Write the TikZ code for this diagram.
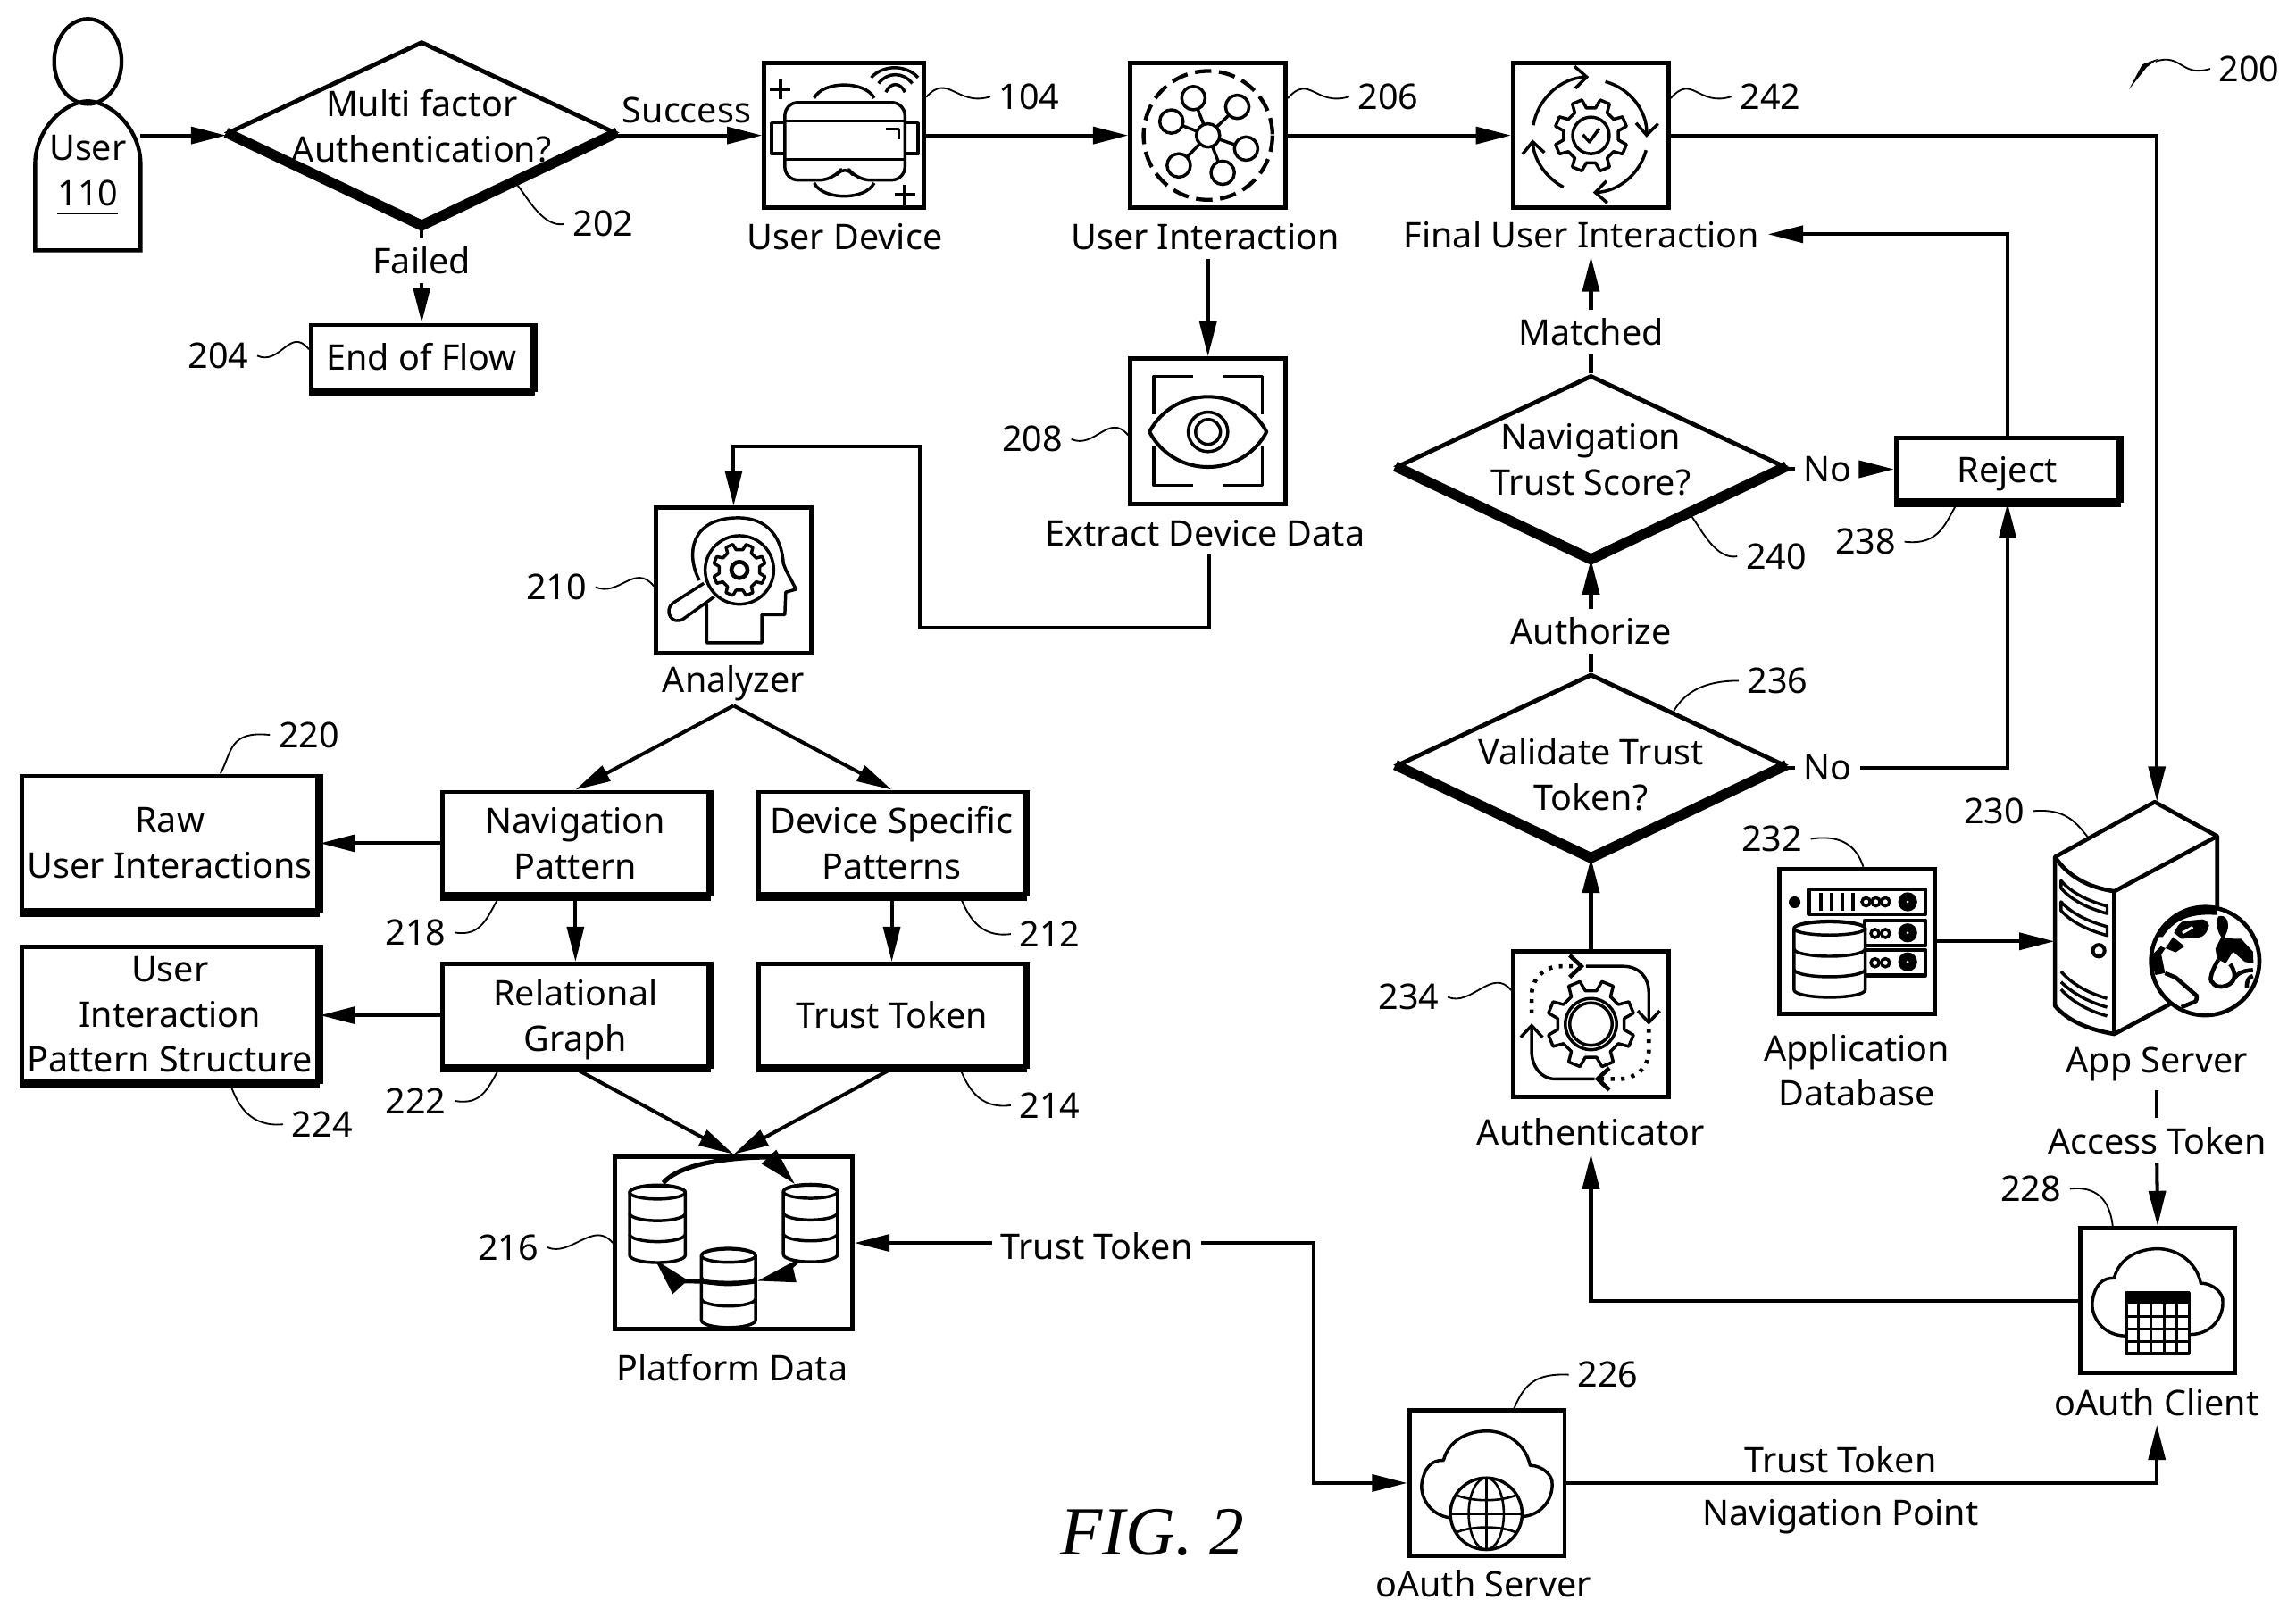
\documentclass[tikz,border=0pt]{standalone}
\usepackage{fontspec}
\setmainfont{Noto Sans}
\newfontfamily\capfont{Liberation Serif}
\usetikzlibrary{arrows.meta, shapes.geometric, positioning}
\newcommand{\figfont}{\fontsize{6.85}{8.8}\selectfont}
\newcommand{\nodepth}[1]{\raisebox{0pt}[\height][0pt]{#1}}
\tikzset{
    icon/.style={line width=.6pt, line join=round},
    iconbox/.style={draw, line width=.85pt, minimum width=1.06cm, minimum height=.99cm, inner sep=0pt},
    flowbox/.style={draw, line width=.85pt, align=center, inner sep=0pt},
    decision/.style={draw, diamond, line width=.85pt, minimum width=2.64cm, minimum height=1.24cm, inner sep=0pt, aspect=2.1},
    tag/.style={inner sep=1.5pt, align=center},
    link/.style={line width=.7pt, -{Stealth[length=2.4mm,width=1.15mm,inset=0pt]}},
    plainlink/.style={line width=.7pt},
    leader/.style={line width=.32pt},
    ringtip/.style={icon, -{Straight Barb[length=.8mm,width=1.5mm]}},
    cycletip/.style={line width=.9pt, -{Stealth[length=2.6mm,width=1.3mm,inset=0pt]}}
}
% eight teeth round a centre
\newcommand{\cogwheel}[3]{%
    \draw[icon, shift={(#1)}] (9.5:#2) \foreach \a in {22.5,67.5,...,337.5} {
        -- ({\a-13}:#2) -- ({\a-8}:#3) -- ({\a+8}:#3) -- ({\a+13}:#2)} -- cycle;}
% three stacked discs
\newcommand{\dbstack}[4]{%
    \begin{scope}[shift={(#1,#2)}]
        \draw[icon, fill=white] (-#3,0) -- (-#3,3*#4) arc[start angle=180, end angle=0, x radius=#3, y radius=5] -- (#3,0) arc[start angle=0, end angle=-180, x radius=#3, y radius=5];
        \draw[icon] (0,0) ellipse[x radius=#3, y radius=4.5];
        \draw[icon] (-#3,#4) arc[start angle=180, end angle=0, x radius=#3, y radius=5];
        \draw[icon] (-#3,2*#4) arc[start angle=180, end angle=0, x radius=#3, y radius=5];
    \end{scope}}
\newcommand{\cloudhull}[1]{%
    \draw[icon, shift={(#1)}] (-21.5,24) .. controls (-38,24) and (-46,10) .. (-44.5,0) .. controls (-43,-10) and (-38,-16) .. (-29.7,-15.5) .. controls (-26,-30) and (-12,-35.5) .. (0,-35.5) .. controls (12,-35.5) and (26,-28) .. (29.5,-12) .. controls (38,-12) and (45,-5) .. (44.5,0.5) .. controls (45,12) and (36,23) .. (22.5,23);}
\newcommand{\wavelead}[2]{\draw[leader] (#1) .. controls +(-23,7) and +(15,-17) .. (#2);}
\newcommand{\waveback}[2]{\draw[leader] (#1) .. controls +(16,7) and +(-13,-16) .. (#2);}

\begin{document}
\begin{tikzpicture}[x=.01cm, y=-.01cm, every node/.style={font=\figfont}]
    \useasboundingbox (0,0) rectangle (1568,1104);
    % User
    \draw[line width=.75pt] (60,42) ellipse[x radius=23, y radius=29];
    \draw[line width=.75pt] (24,171) -- (24,112) .. controls (24,90) and (42,70) .. (60,69) .. controls (78,70) and (96,90) .. (96,112) -- (96,171) -- cycle;
    \coordinate (userport) at (96,92.5);
    \node[tag] (usertxt) at (60,120) {User\\\underline{110}};

    % Upper row
    \node[decision] (mfa) at (288,90.5) {};
    \node[tag] (mfatxt) at (288,86) {Multi factor\\Authentication?};
    \node[iconbox, minimum width=1.09cm] (udev) at (576.5,92.5) {};
    \node[iconbox] (uint) at (825,92.5) {};
    \node[iconbox] (fint) at (1086.5,92.5) {};
    \node[tag] (udevl) at (577,162) {User Device};
    \node[tag] (uintl) at (823,162) {User Interaction};
    \node[tag] (fintl) at (1080,160) {Final User Interaction};
    \node[tag] (succ) at (469,75) {Success};
    \node[tag] (fail) at (288,178) {Failed};
    \node[flowbox, minimum width=1.51cm, minimum height=.44cm] (endf) at (288,244) {End of Flow};

    % Extract and analyzer
    \node[iconbox] (extr) at (825,294.5) {};
    \node[tag] (extrl) at (823,364) {Extract Device Data};
    \node[iconbox] (anlz) at (501,396.5) {};
    \node[tag] (anlzl) at (501,467) {Analyzer};
    \coordinate (fork) at (501,482);
    \coordinate (ex1) at (826,429);
    \coordinate (ex2) at (628,429);
    \coordinate (ex3) at (628,305);
    \coordinate (ex4) at (501,305);

    % Pattern boxes
    \node[flowbox, minimum width=2.02cm, minimum height=.92cm] (raw) at (116,576) {Raw\\User Interactions};
    \node[flowbox, minimum width=2.02cm, minimum height=.92cm] (uips) at (116,693) {User\\Interaction\\Pattern Structure};
    \node[flowbox, minimum width=1.82cm, minimum height=.7cm] (nav) at (393,576) {Navigation\\Pattern};
    \node[flowbox, minimum width=1.82cm, minimum height=.7cm] (dsp) at (609,576) {Device Specific\\Patterns};
    \node[flowbox, minimum width=1.82cm, minimum height=.7cm] (rel) at (393,693.5) {Relational\\\nodepth{Graph}};
    \node[flowbox, minimum width=1.82cm, minimum height=.7cm] (trt) at (609,693.5) {Trust Token};
    \node[draw, line width=.85pt, minimum width=1.62cm, minimum height=1.18cm, inner sep=0pt] (pdat) at (501,849) {};
    \node[tag] (pdatl) at (500,934) {Platform Data};
    \node[tag] (ttmid) at (749,851) {Trust Token};
    \coordinate (ttbend) at (897,849);

    % Right column
    \node[decision] (nts) at (1086.5,318.5) {};
    \node[tag] (ntstxt) at (1086.5,314) {Navigation\\Trust Score?};
    \node[decision] (vtt) at (1086.5,522.5) {};
    \node[tag] (vtttxt) at (1086.5,529) {Validate Trust\\Token?};
    \node[flowbox, minimum width=1.52cm, minimum height=.43cm] (rej) at (1371,320.5) {\nodepth{Reject}};
    \node[tag] (mat) at (1086.5,227) {Matched};
    \node[tag] (no1) at (1248,320.5) {No};
    \node[tag] (no2) at (1248,524.5) {No};
    \node[tag] (auth) at (1086.5,431) {Authorize};
    \node[iconbox] (autb) at (1086.5,699.5) {};
    \node[tag] (autl) at (1086.5,773) {Authenticator};
    \node[iconbox] (adb) at (1268,643) {};
    \node[tag] (adbl) at (1268,731) {Application\\Database};
    \node[tag] (srvl) at (1473,727) {App Server};
    \node[tag] (acc) at (1473,779) {Access Token};
    \node[iconbox] (ocl) at (1473.5,888.5) {};
    \node[tag] (ocll) at (1473,958) {oAuth Client};
    \node[iconbox] (osv) at (1015.5,1013) {};
    \node[tag] (osvl) at (1013,1082) {oAuth Server};
    \node[tag] (tt2) at (1257,997) {Trust Token};
    \node[tag] (npt) at (1257,1036) {Navigation Point};
    \coordinate (srvtop) at (1473,547.5);
    \coordinate (srvleft) at (1403,643);

    \node[inner sep=0pt, font=\capfont\itshape\fontsize{13.4}{15}\selectfont] (figname) at (787,1047) {FIG. 2};

    % Heavy lower edges
    \draw[line width=2pt, line join=miter] (mfa.west) -- (mfa.south) -- (mfa.east);
    \draw[line width=2pt, line join=miter] (nts.west) -- (nts.south) -- (nts.east);
    \draw[line width=2pt, line join=miter] (vtt.west) -- (vtt.south) -- (vtt.east);
    \foreach \b in {endf,rej,raw,uips,nav,dsp,rel,trt} {
        \draw[line width=1.5pt] (\b.south west) -- (\b.south east);
        \draw[line width=1.1pt] (\b.south east) -- (\b.north east);
    }

    % Connectors
    \draw[link] (userport) -- (userport -| mfa.west);
    \draw[link] (mfa.east |- udev.west) -- (udev.west);
    \draw[link] (udev.east) -- (uint.west);
    \draw[link] (uint.east) -- (fint.west);
    \draw[link] (fint.east) -| (srvtop);
    \draw[plainlink] (mfa.south) -- (fail.north);
    \draw[link] (fail.south) -- (endf.north);
    \draw[link] (uint.south |- uintl.south) -- (extr.north);
    \draw[link] (ex1 |- extrl.south) -- (ex1) -- (ex2) -- (ex3) -- (ex4) -- (anlz.north);
    \draw[link] (fork) -- (nav.north);
    \draw[link] (fork) -- (dsp.north);
    \draw[link] (nav.west) -- (raw.east);
    \draw[link] (rel.west) -- (rel.west -| uips.east);
    \draw[link] (nav.south) -- (rel.north);
    \draw[link] (dsp.south) -- (trt.north);
    \draw[link] (rel.south) -- (pdat.north);
    \draw[link] (trt.south) -- (pdat.north);
    \draw[link] (ttmid.west |- pdat.east) -- (pdat.east);
    \draw[link] (ttmid.east |- ttbend) -- (ttbend) |- (osv.west);
    \draw[plainlink] (nts.north) -- (mat.south);
    \draw[link] (mat.north) -- (mat.north |- fintl.south);
    \draw[link] (rej.north) |- (fintl.east);
    \draw[plainlink] (nts.east |- no1.west) -- (no1.west);
    \draw[link] (no1.east) -- (rej.west);
    \draw[plainlink] (vtt.east |- no2.west) -- (no2.west);
    \draw[link] (no2.east) -| (rej.south);
    \draw[plainlink] (vtt.north) -- (auth.south);
    \draw[link] (auth.north) -- (nts.south);
    \draw[link] (autb.north) -- (vtt.south);
    \draw[link] (ocl.west) -| (autl.south);
    \draw[plainlink] (srvl.south) -- (acc.north);
    \draw[link] (acc.south) -- (ocl.north);
    \draw[link] (adb.east) -- (srvleft);
    \draw[link] (osv.east) -| (ocll.south);

    % VR headset
    \draw[icon, rounded corners=.09cm] (577,112) -- (585,123) -- (618,123) -- (618,70) -- (536,70) -- (536,123) -- (569,123) -- cycle;
    \draw[icon] (536,82.6) -- (618,82.6) (536,109) -- (618,109);
    \draw[icon] (536,84) -- (527,84) -- (527,105) -- (536,105);
    \draw[icon] (618,84) -- (627,84) -- (627,105) -- (618,105);
    \draw[icon] (605,88) -- (614,88) -- (614,95);
    \draw[icon] (556,67) .. controls (562,55) and (591,55) .. (597,67);
    \draw[icon] (556,125) .. controls (562,137) and (591,137) .. (597,125);
    \draw[icon] (595,53) .. controls (603,44) and (619,44) .. (627,53);
    \draw[icon] (600,57) .. controls (606,49) and (617,49) .. (623,57);
    \draw[icon] (605,63) .. controls (608,56) and (615,56) .. (618,63);
    \draw[line width=.7pt] (533,54) -- (533,68) (526,61) -- (540,61);
    \draw[line width=.7pt] (618,126) -- (618,141) (611,133) -- (625,133);

    % Network
    \draw[icon, dash pattern=on 3.2pt off 1.5pt, line width=.75pt] (825,92.5) circle[radius=44];
    \foreach \px/\py in {815/67, 845/73, 800/83, 851/101.5, 805/113, 835/118} {
        \draw[icon] (825,92.5) -- (\px,\py);
        \draw[icon, fill=white] (\px,\py) circle[radius=8];
    }
    \draw[icon, fill=white] (825,92.5) circle[radius=8];

    % Gear with check mark
    \cogwheel{1086.5,92.5}{19}{25}
    \draw[icon] (1086.5,92.5) circle[radius=12.5];
    \draw[icon] (1081,92) -- (1085.5,97) -- (1092,88);
    \begin{scope}[shift={(1086.5,92.5)}]
        \draw[ringtip] (190:40) arc[start angle=190, end angle=268, radius=40];
        \draw[ringtip] (-75:38) arc[start angle=-75, end angle=2, radius=38];
        \draw[ringtip] (15:39) arc[start angle=15, end angle=88, radius=39];
        \draw[ringtip] (118:40) arc[start angle=118, end angle=176, radius=40];
    \end{scope}

    % Eye
    \draw[icon] (815,257) -- (788,257) -- (788,283) (835,257) -- (862,257) -- (862,283);
    \draw[icon] (815,331.5) -- (788,331.5) -- (788,305) (835,331.5) -- (862,331.5) -- (862,305);
    \draw[line width=.7pt, line join=round] (785,295) .. controls (802,263) and (848,263) .. (865,295) .. controls (848,327) and (802,327) .. (785,295) -- cycle;
    \draw[icon] (825,295) circle[radius=13.5];
    \draw[icon] (825,295) circle[radius=8.5];

    % Head with lens
    \draw[icon] (477.6,396.4) .. controls (468,378) and (472,353.7) .. (504,353.7) .. controls (525,353.7) and (534,368) .. (535,385) -- (537,390) -- (543.7,402.5) -- (536.6,404.5) -- (536,419.8) -- (520.3,419.8) -- (520.3,439) -- (482.7,439) -- (482.7,412.6);
    \draw[icon] (480.7,398.4) -- (459.5,412) .. controls (453,417) and (459,428) .. (467,422.5) -- (487.8,407.6);
    \draw[icon, fill=white] (505,389.3) circle[radius=23.4];
    \cogwheel{505,389.3}{14}{18}
    \draw[line width=.8pt] (505,389.3) circle[radius=5.5];

    % Platform data
    \draw[cycletip] (453,808) .. controls (468,790) and (525,790) .. (543,809);
    \draw[cycletip] (547,859) .. controls (540,866) and (530,872) .. (517,875);
    \draw[cycletip] (500,875) .. controls (480,877) and (458,872) .. (447,860);
    \dbstack{449}{814.5}{19}{14.3}
    \dbstack{553.5}{814}{18.5}{14.3}
    \dbstack{497.5}{857.7}{18.5}{14.7}
    \draw[line width=.9pt] (479,875) .. controls (487,877) and (508,877) .. (516,875);

    % Authenticator
    \cogwheel{1086.5,699.5}{23}{30}
    \draw[icon] (1086.5,699.5) circle[radius=17.5];
    \draw[icon] (1086.5,699.5) circle[radius=14.5];
    \draw[ringtip] (1083,660) -- (1108,660) .. controls (1120,660) and (1126,668) .. (1126,678) -- (1126,700);
    \draw[ringtip, dash pattern=on .7pt off 1.3pt, line width=.8pt] (1046,692) -- (1046,680) .. controls (1046,668) and (1055,660) .. (1066,660) -- (1082,660);
    \draw[ringtip] (1089,737) -- (1062,737) .. controls (1052,737) and (1046,728) .. (1046,718) -- (1046,699);
    \draw[ringtip, dash pattern=on .7pt off 1.3pt, line width=.8pt] (1126,703) -- (1126,718) .. controls (1126,730) and (1116,737) .. (1106,737) -- (1089,737);

    % Application database
    \fill (1225.6,616.3) circle[radius=4];
    \draw[icon, line width=.75pt] (1235.4,607.4) rectangle (1315,624.4);
    \draw[icon, line width=.75pt] (1273.4,628.7) rectangle (1315,646);
    \draw[icon, line width=.75pt] (1273.4,649) rectangle (1315,666.3);
    \foreach \bx in {1243.5,1251,1258.1,1265.6} {\draw[line width=.7pt] (\bx,610) -- (\bx,622);}
    \foreach \cx/\cy in {1274.4/616, 1281.1/616, 1287.6/616, 1280.5/637.6, 1287.6/637.6, 1280.5/657.6, 1287.6/657.6} {\draw[line width=.6pt] (\cx,\cy) circle[radius=2.8];}
    \foreach \cy in {616,637.2,657} {
        \fill (1302.8,\cy) circle[radius=6.5];
        \fill[white] (1302.8,\cy) circle[radius=.9];
    }
    \dbstack{1249.5}{634.2}{24.3}{14}

    % Server with globe
    \draw[line width=.8pt, line join=round, fill=white] (1471.5,547.8) -- (1514.2,571.2) -- (1514.2,640) -- (1481.7,686) -- (1444,706.3) .. controls (1425,703) and (1412,697) .. (1403.4,687) -- (1403.4,585.4) -- cycle;
    \draw[line width=.8pt] (1403.4,585.4) .. controls (1412,598) and (1425,606) .. (1444,608.8) -- (1514.2,571.2);
    \draw[line width=.8pt] (1444,608.8) -- (1444,706.3);
    \draw[icon] (1407.5,601.6) .. controls (1415,610) and (1425,615) .. (1439,619) -- (1439,624) .. controls (1425,620) and (1415,615) .. (1407.5,606.7) -- cycle;
    \draw[icon] (1407.5,616) .. controls (1415,624) and (1425,629) .. (1439,633) -- (1439,639) .. controls (1425,635) and (1415,630) .. (1407.5,622) -- cycle;
    \draw[line width=.7pt] (1433.3,649.4) circle[radius=4];
    \draw[icon] (1407.5,663.6) .. controls (1415,672) and (1425,678) .. (1439,682);
    \draw[icon] (1407.5,670.7) .. controls (1415,678) and (1425,684) .. (1439,688);
    \draw[icon] (1407.5,675.8) .. controls (1415,684) and (1425,690) .. (1439,694);
    \draw[line width=.8pt, fill=white] (1506,656.5) circle[radius=37];
    \begin{scope}
        \clip (1506,656.5) circle[radius=37];
        % land masses
        \fill (1470,640) .. controls (1476,628) and (1490,620) .. (1514,620) -- (1514,625) .. controls (1500,624) and (1486,626) .. (1477,640) -- cycle;
        \fill (1484.7,637.2) .. controls (1487,632) and (1490,629) .. (1491.9,629.1) -- (1504,628) .. controls (1507,628) and (1510,632) .. (1508,634) .. controls (1507,638) and (1504,640) .. (1502,640.3) -- (1489.8,641.3) -- cycle;
        \fill[white] (1490,636.5) -- (1497,632.5) -- (1498,634) -- (1491,638) -- cycle;
        \fill (1484,640) -- (1491.9,646.4) -- (1485.8,650.5) -- (1475.6,646.4) -- (1468,654) -- (1472,666) -- (1478.6,664.7) -- (1476,652) -- cycle;
        \fill (1515,626) .. controls (1520,624) and (1523,630) .. (1521,636) -- (1519,641) -- (1530.5,641.3) -- (1538.6,650) -- (1539,658) -- (1533,657) -- (1525,650) -- (1520,658) -- (1514,655) -- (1513,648) -- (1517,640) .. controls (1514,636) and (1513,630) .. (1515,626) -- cycle;
        \draw[line width=.8pt] (1515,655.5) .. controls (1511,662) and (1508,670) .. (1511,671) .. controls (1513,675) and (1520,675) .. (1524.4,670.8) .. controls (1527,668) and (1526,662) .. (1523,658.6);
        \draw[line width=.8pt] (1524.4,670.8) .. controls (1527,665) and (1531,663) .. (1538.6,662.6);
        \draw[line width=.8pt] (1534.5,674.8) .. controls (1534,670) and (1536,667) .. (1538.6,666.7);
        \draw[line width=.8pt] (1478.6,664.7) -- (1485.8,667.7) -- (1500,680) .. controls (1501,683) and (1499,685) .. (1497,685) -- (1489.8,688);
    \end{scope}

    % Clouds
    \cloudhull{1473.5,888.5}
    \draw[icon, fill=white] (1452,883) rectangle (1495,924.7);
    \fill (1452,883) rectangle (1495,891);
    \foreach \gx in {1460.6,1469.2,1477.8,1486.4} {\draw[line width=.5pt] (\gx,891) -- (\gx,924.7);}
    \foreach \gy in {899.4,907.8,916.2} {\draw[line width=.5pt] (1452,\gy) -- (1495,\gy);}
    \cloudhull{1015.5,1013}
    \draw[icon, fill=white] (1015,1034) circle[radius=24.5];
    \draw[line width=.45pt] (1015,1034) ellipse[x radius=12, y radius=24.5];
    \draw[line width=.45pt] (1015,1009.5) -- (1015,1058.5) (990.5,1034) -- (1039.5,1034);
    \draw[line width=.45pt] (994,1021) .. controls (1005,1026) and (1025,1026) .. (1036,1021);
    \draw[line width=.45pt] (994,1047) .. controls (1005,1042) and (1025,1042) .. (1036,1047);

    % Reference numerals
    \node[tag] (n104) at (703,66) {104};
    \node[tag] (n206) at (948,66) {206};
    \node[tag] (n242) at (1209,66) {242};
    \node[tag] (n200) at (1536,47) {200};
    \node[tag] (n202) at (412,153) {202};
    \node[tag] (n204) at (149,243) {204};
    \node[tag] (n208) at (705,300) {208};
    \node[tag] (n210) at (380,401) {210};
    \node[tag] (n220) at (211,502) {220};
    \node[tag] (n218) at (284,637) {218};
    \node[tag] (n212) at (717,638) {212};
    \node[tag] (n222) at (284,752) {222};
    \node[tag] (n214) at (717,755) {214};
    \node[tag] (n224) at (220,768) {224};
    \node[tag] (n216) at (347,852) {216};
    \node[tag] (n236) at (1214,465) {236};
    \node[tag] (n240) at (1213,380) {240};
    \node[tag] (n238) at (1274,370) {238};
    \node[tag] (n230) at (1362,554) {230};
    \node[tag] (n232) at (1210,573) {232};
    \node[tag] (n234) at (962,681) {234};
    \node[tag] (n228) at (1387,812) {228};
    \node[tag] (n226) at (1098,939) {226};
    \coordinate (srvlead) at (1426,572);
    \coordinate (arrow200) at (1472,42);

    % Lead lines
    \wavelead{n104.west}{udev.25}
    \wavelead{n206.west}{uint.25}
    \wavelead{n242.west}{fint.25}
    \waveback{n204.east}{endf.176}
    \waveback{n208.east}{extr.183}
    \waveback{n210.east}{anlz.184}
    \waveback{n216.east}{pdat.west}
    \waveback{n234.east}{autb.157}
    \draw[leader] (n200.west) .. controls +(-20,6) and +(18,-6) .. (arrow200);
    \fill (1474,40) -- (1463,44) -- (1454,61) -- (1466,46) -- cycle;
    \draw[leader] (n202.west) .. controls +(-22,4) and +(6,-20) .. (mfa.-33);
    \draw[leader] (n240.west) .. controls +(-22,4) and +(6,-20) .. (nts.-30);
    \draw[leader] (n236.west) .. controls +(-22,0) and +(8,-14) .. (vtt.33);
    \draw[leader] (n238.east) .. controls +(25,3) and +(-8,12) .. (rej.214);
    \draw[leader] (n218.east) .. controls +(18,3) and +(-8,14) .. (nav.215);
    \draw[leader] (n222.east) .. controls +(18,3) and +(-8,14) .. (rel.215);
    \draw[leader] (n212.west) .. controls +(-22,3) and +(5,12) .. (dsp.-38);
    \draw[leader] (n214.west) .. controls +(-22,3) and +(5,12) .. (trt.-38);
    \draw[leader] (n220.west) .. controls +(-28,-3) and +(8,-15) .. (raw.54);
    \draw[leader] (n224.west) .. controls +(-22,2) and +(5,15) .. (uips.-49);
    \draw[leader] (n226.west) .. controls +(-22,-1) and +(7,-17) .. (osv.70);
    \draw[leader] (n228.east) .. controls +(18,-2) and +(-2,-18) .. (ocl.121);
    \draw[leader] (n230.east) .. controls +(22,-2) and +(-8,-10) .. (srvlead);
    \draw[leader] (n232.east) .. controls +(20,-3) and +(-5,-15) .. (adb.85);
\end{tikzpicture}
\end{document}
